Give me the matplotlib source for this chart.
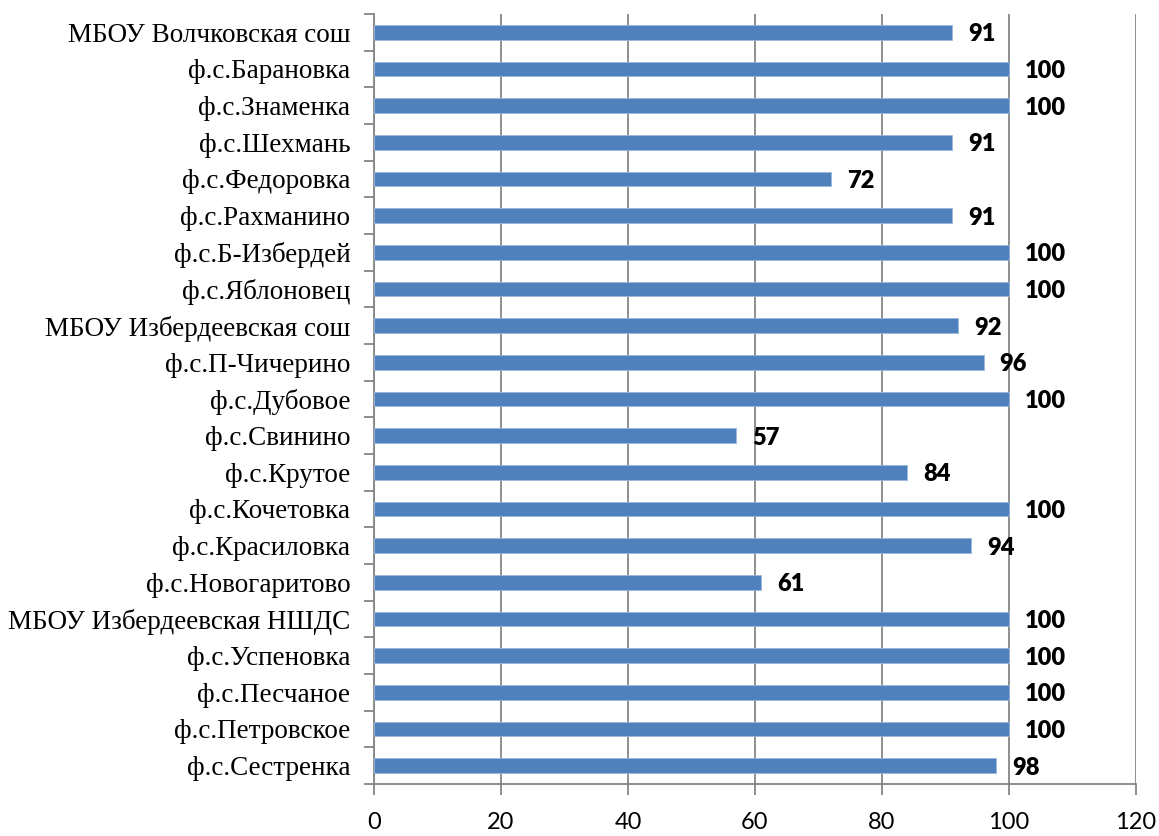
import matplotlib.pyplot as plt

# categories listed bottom -> top, as drawn
schools = ['ф.с.Сестренка', 'ф.с.Петровское', 'ф.с.Песчаное', 'ф.с.Успеновка',
           'МБОУ Избердеевская НШДС', 'ф.с.Новогаритово', 'ф.с.Красиловка',
           'ф.с.Кочетовка', 'ф.с.Крутое', 'ф.с.Свинино', 'ф.с.Дубовое',
           'ф.с.П-Чичерино', 'МБОУ Избердеевская сош', 'ф.с.Яблоновец',
           'ф.с.Б-Избердей', 'ф.с.Рахманино', 'ф.с.Федоровка', 'ф.с.Шехмань',
           'ф.с.Знаменка', 'ф.с.Барановка', 'МБОУ Волчковская сош']
values = [98, 100, 100, 100, 100, 61, 94, 100, 84, 57, 100,
          96, 92, 100, 100, 91, 72, 91, 100, 100, 91]
xticks = [0, 20, 40, 60, 80, 100, 120]

grid_col = '#868686'

fig = plt.figure(figsize=(11.59, 8.36), dpi=100)
ax = fig.add_axes([0.3227, 0.0622, 0.6574, 0.9211])

pos = list(range(len(schools)))
ax.barh(pos, values, height=0.4, color='#4F81BD', edgecolor='#9BB7DB',
        linewidth=0.6, zorder=3)

for p, v in zip(pos, values):
    ax.annotate(str(v), (v, p), xytext=(11.5, 0), textcoords='offset points',
                ha='left', va='center_baseline', fontsize=17, fontweight='heavy',
                family='Lato', color='black', zorder=4)

ax.set_xlim(0, 120)
ax.set_ylim(-0.5, len(schools) - 0.5)
ax.set_xticks(xticks)
ax.set_xticklabels([str(t) for t in xticks], family='Lato', fontsize=17)
ax.set_yticks(pos)
ax.set_yticklabels(schools, family='Liberation Serif', fontsize=19.5)

# ticks between categories like Excel
ax.set_yticks([p - 0.5 for p in pos] + [len(schools) - 0.5], minor=True)
ax.tick_params(axis='y', which='major', length=0, pad=17)
ax.tick_params(axis='y', which='minor', length=7, width=1.3, color=grid_col)
ax.tick_params(axis='x', length=8, width=1.3, color=grid_col, pad=12)

ax.grid(axis='x', color=grid_col, linewidth=1.3, zorder=0)
for s in ['top', 'right']:
    ax.spines[s].set_visible(False)
for s in ['left', 'bottom']:
    ax.spines[s].set_color(grid_col)
    ax.spines[s].set_linewidth(1.3)

fig.savefig('out.png', dpi=100)
